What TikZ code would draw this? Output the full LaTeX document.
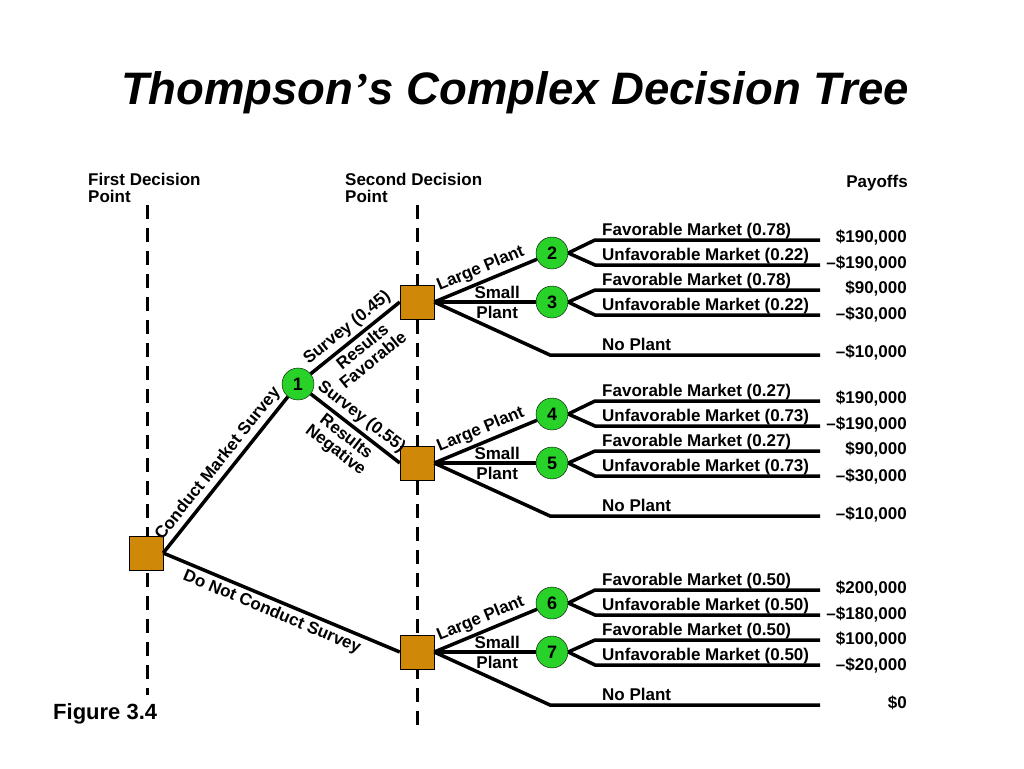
\documentclass[tikz,border=0pt]{standalone}
\usepackage{fontspec}
\setmainfont{Liberation Sans}
\usetikzlibrary{positioning}

\definecolor{boxorange}{RGB}{208,136,8}
\definecolor{nodegreen}{RGB}{40,210,40}

\tikzset{
  decision/.style={draw, thin, fill=boxorange, minimum size=34pt, inner sep=0pt},
  chance/.style={circle, draw, thin, fill=nodegreen, minimum size=32pt, inner sep=0pt,
    font=\bfseries\fontsize{18}{18}\selectfont},
  branch/.style={line width=3.5pt},
  guide/.style={line width=3pt, dash pattern=on 14pt off 9pt},
  lbl/.style={font=\bfseries\fontsize{17}{17}\selectfont, inner sep=2pt},
  slope lbl/.style={lbl, sloped, inner sep=3pt},
}

\begin{document}
\begin{tikzpicture}[x=1pt, y=-1pt]
  \useasboundingbox (0,0) rectangle (1024,768);

  \node[font=\bfseries\itshape\fontsize{45.5}{50}\selectfont] (title) at (515,93)
    {Thompson{\fontspec{Liberation Serif}’}s Complex Decision Tree};

  \node[lbl, align=left, anchor=north west] (first) at (86,171) {First Decision\\Point};
  \node[lbl, align=left, anchor=north west] (second) at (343,171) {Second Decision\\Point};
  \node[lbl] (payoffs) at (877,183) {Payoffs};
  \node[lbl, font=\bfseries\fontsize{22}{22}\selectfont, anchor=west] (fig) at (51,714) {Figure 3.4};

  % decision points
  \draw[guide] (147,205) -- (147,695);
  \draw[guide] (417,205) -- (417,730);

  \node[decision] (A) at (146,553) {};
  \node[decision] (B) at (417,302) {};
  \node[decision] (C) at (417,463) {};
  \node[decision] (D) at (417,652) {};
  \node[chance] (c1) at (298,384) {1};

  \draw[branch] (A.east) -- node[slope lbl, above, pos=0.52] {Conduct Market Survey} (c1);
  \draw[branch] (A.east) -- node[slope lbl, below, pos=0.48] {Do Not Conduct Survey} (D.west);
  \draw[branch] (c1) -- node[slope lbl, above, pos=0.5] {Survey (0.45)}
    node[slope lbl, below, align=center, pos=0.5] {Results\\Favorable} (B.west);
  \draw[branch] (c1) -- node[slope lbl, above, pos=0.48] {Survey (0.55)}
    node[slope lbl, below, align=center, pos=0.48] {Results\\Negative} (C.west);

  % plant choices and markets
  \foreach \s/\y/\a/\b/\pf/\pu/\va/\vb/\vc/\vd/\ve in {
    B/302/2/3/0.78/0.22/\$190{,}000/–\$190{,}000/\$90{,}000/–\$30{,}000/–\$10{,}000,
    C/463/4/5/0.27/0.73/\$190{,}000/–\$190{,}000/\$90{,}000/–\$30{,}000/–\$10{,}000,
    D/652/6/7/0.50/0.50/\$200{,}000/–\$180{,}000/\$100{,}000/–\$20{,}000/\$0} {
    \node[chance] (c\a) at (552,\y-49) {\a};
    \node[chance] (c\b) at (552,\y) {\b};
    \draw[branch] (\s.east) -- node[slope lbl, above, pos=0.5] {Large Plant} (c\a);
    \draw[branch] (\s.east) -- node[lbl, above, pos=0.62] {Small}
      node[lbl, below, pos=0.62] {Plant} (c\b);

    \coordinate (e\a u) at (820,\y-62);
    \coordinate (e\a d) at (820,\y-37);
    \coordinate (e\b u) at (820,\y-12);
    \coordinate (e\b d) at (820,\y+13);
    \coordinate (n\s) at (820,\y+53);
    \draw[branch] (c\a.east) -- (595,\y-62) -- (e\a u);
    \draw[branch] (c\a.east) -- (595,\y-37) -- (e\a d);
    \draw[branch] (c\b.east) -- (595,\y-12) -- (e\b u);
    \draw[branch] (c\b.east) -- (595,\y+13) -- (e\b d);
    \draw[branch] (\s.east) -- (550,\y+53) -- (n\s);

    \node[lbl, anchor=base west] at (600,\y-67) {Favorable Market (\pf)};
    \node[lbl, anchor=base west] at (600,\y-42) {Unfavorable Market (\pu)};
    \node[lbl, anchor=base west] at (600,\y-17) {Favorable Market (\pf)};
    \node[lbl, anchor=base west] at (600,\y+8) {Unfavorable Market (\pu)};
    \node[lbl, anchor=base west] at (600,\y+48) {No Plant};

    \node[lbl, anchor=east] at (909,\y-64) {\va};
    \node[lbl, anchor=east] at (909,\y-38) {\vb};
    \node[lbl, anchor=east] at (909,\y-13) {\vc};
    \node[lbl, anchor=east] at (909,\y+13) {\vd};
    \node[lbl, anchor=east] at (909,\y+51) {\ve};
  }
\end{tikzpicture}
\end{document}
